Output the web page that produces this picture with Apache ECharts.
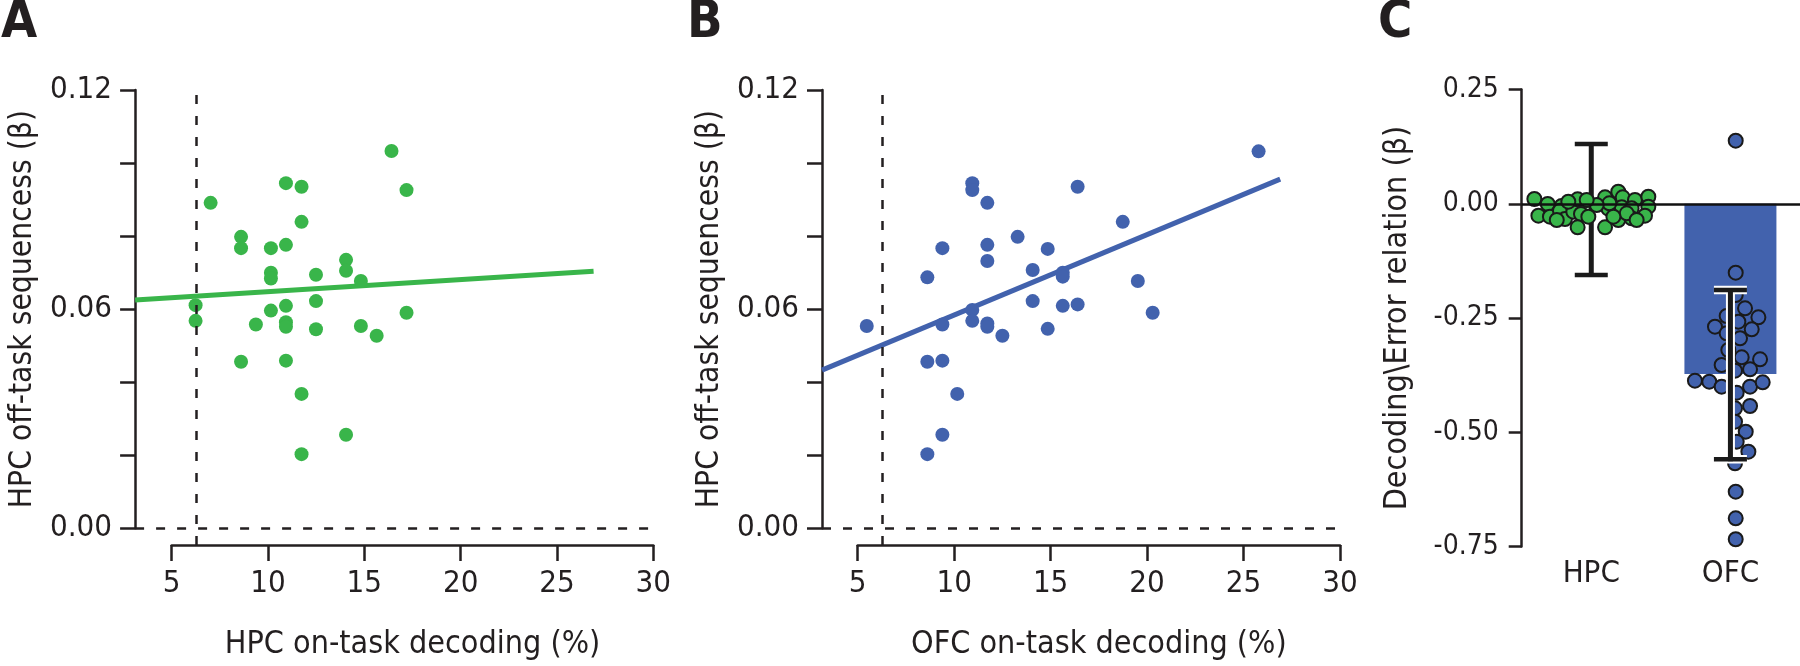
<!DOCTYPE html>
<html><head><meta charset="utf-8">
<script src="https://cdn.jsdelivr.net/npm/echarts@6/dist/echarts.min.js"></script>
<style>html,body{margin:0;padding:0;background:#fff}#c{width:1800px;height:666px}</style>
</head><body><div id="c"></div>
<script>
// ---------- Panel A: HPC on-task decoding vs HPC off-task sequenceness ----------
const hpcDecoding = [16.41,10.93,11.74,17.19,7.02,11.74,8.60,8.60,10.15,10.93,14.05,14.05,10.15,10.15,12.49,14.82,6.24,6.24,9.37,10.15,10.93,10.93,10.93,12.49,12.49,14.82,15.64,17.19,8.60,10.93,11.74,14.05,11.74];
const hpcSeqA     = [0.1033,0.0945,0.0935,0.0926,0.0891,0.0839,0.0798,0.0767,0.0767,0.0776,0.0735,0.0705,0.0700,0.0684,0.0694,0.0677,0.0611,0.0568,0.0558,0.0596,0.0609,0.0564,0.0552,0.0622,0.0545,0.0554,0.0527,0.0590,0.0456,0.0459,0.0368,0.0256,0.0203];
const fitAX = [3.1, 26.9];
const fitAY = [0.0625, 0.0704];

// ---------- Panel B: OFC on-task decoding vs HPC off-task sequenceness ----------
const ofcDecoding = [25.78,10.94,10.94,16.40,11.72,18.74,13.29,9.39,11.72,14.85,11.72,8.61,14.07,15.63,15.63,19.52,14.07,15.63,16.40,20.29,5.47,9.39,10.94,10.94,11.72,11.72,12.50,14.85,8.61,9.39,10.16,9.39,8.61];
const hpcSeqB     = [0.1032,0.0945,0.0926,0.0935,0.0891,0.0839,0.0798,0.0767,0.0776,0.0765,0.0732,0.0687,0.0707,0.0700,0.0689,0.0677,0.0622,0.0609,0.0613,0.0590,0.0554,0.0558,0.0598,0.0568,0.0561,0.0552,0.0527,0.0546,0.0456,0.0459,0.0368,0.0256,0.0203];
const fitBX = [3.15, 26.9];
const fitBY = [0.0433, 0.0956];

const chanceLevel = 6.25;
const xTicks = [5, 30];       // x axis extent of A and B
const yTicksAB = [0, 0.12];   // y axis extent of A and B

// ---------- Panel C: Decoding \ Error relation ----------
const regions = ['HPC', 'OFC'];
const regionMeans = [-0.01, -0.3725];
const errLow  = [-0.156, -0.559];
const errHigh = [0.131, -0.189];
const hpcSwarmX = [0.091,0.187,0.120,0.203,0.287,0.275,0.311,0.371,0.402,0.426,0.402,0.479,0.599,0.623,0.599,0.694,0.726,0.719,0.694,0.814,0.790,0.790,0.910,0.910,0.886,0.630,0.755,0.539,0.252,0.467,0.826,0.659,0.335];
const hpcSwarmY = [0.0104,-0.0005,-0.0261,-0.0283,-0.0049,-0.0151,-0.0334,-0.0173,0.0097,-0.0224,-0.0516,-0.0283,0.0140,-0.0108,-0.0516,0.0264,0.0140,-0.0078,-0.0356,0.0082,-0.0100,-0.0319,0.0155,-0.0064,-0.0261,0.0009,-0.0210,-0.0027,-0.0356,0.0082,-0.0356,-0.0283,0.0046];
const ofcSwarmX = [1.538,1.538,1.538,1.605,1.473,1.701,1.389,1.557,1.653,1.473,1.569,1.485,1.581,1.713,1.437,1.641,1.533,1.245,1.348,1.437,1.641,1.732,1.545,1.641,1.533,1.533,1.610,1.545,1.629,1.533,1.538,1.538,1.538];
const ofcSwarmY = [0.138,-0.1508,-0.1997,-0.2288,-0.2456,-0.2485,-0.2690,-0.2580,-0.2748,-0.2835,-0.2945,-0.3200,-0.3361,-0.3404,-0.3529,-0.3623,-0.3653,-0.3871,-0.3893,-0.4002,-0.4002,-0.3908,-0.4134,-0.4426,-0.4477,-0.4769,-0.4987,-0.5206,-0.5425,-0.5680,-0.6300,-0.6883,-0.7342];

const GREEN = '#39b54a', BLUE = '#4262ad', INK = '#231f20';
const FONT = "'Liberation Sans Narrow','Arial Narrow','DejaVu Sans Condensed',sans-serif";
const zip = (a, b) => a.map((v, i) => [v, b[i]]);

const chart = echarts.init(document.getElementById('c'), null, {renderer: 'canvas'});

const axisLineStyle = {color: INK, width: 2.5};
const dashStyle = {color: INK, width: 2.5, type: [9, 12]};

const gridA = {left: 135.1, width: 518.2, top: 90, height: 438.3};
const gridAd = {left: 171.7, width: 481.6, top: 90, height: 456.7};
const gridB = {left: 822.0, width: 518.0, top: 90, height: 438.3};
const gridBd = {left: 857.7, width: 482.3, top: 90, height: 456.7};
const gridC = {left: 1521.7, right: 0, top: 89.5, height: 457};

function dataX(grid, min) {
  return {type: 'value', gridIndex: grid, min: min, max: xTicks[1], show: false};
}
function dispX(grid, name) {
  return {
    type: 'value', gridIndex: grid, min: xTicks[0], max: xTicks[1], interval: 5, position: 'bottom',
    axisLine: {show: true, onZero: false, lineStyle: axisLineStyle},
    axisTick: {show: true, length: 16, lineStyle: axisLineStyle},
    axisLabel: {color: INK, fontSize: 31, fontFamily: FONT, margin: 23},
    splitLine: {show: false},
    name: name, nameLocation: 'middle', nameGap: 84,
    nameTextStyle: {color: INK, fontSize: 32, fontFamily: FONT}
  };
}
function dataY(grid) {
  return {
    type: 'value', gridIndex: grid, min: yTicksAB[0], max: yTicksAB[1], interval: 0.02,
    axisLine: {show: true, lineStyle: axisLineStyle},
    axisTick: {show: true, length: 15, lineStyle: axisLineStyle},
    axisLabel: {color: INK, fontSize: 31, fontFamily: FONT, margin: 23,
      formatter: v => (Math.abs(v / 0.06 - Math.round(v / 0.06)) < 1e-6 ? v.toFixed(2) : '')},
    splitLine: {show: false},
    name: 'HPC off-task sequencess (\u03b2)', nameLocation: 'middle', nameGap: 96,
    nameTextStyle: {color: INK, fontSize: 31.5, fontFamily: FONT}
  };
}
function hiddenY(grid) {
  return {type: 'value', gridIndex: grid, min: 0, max: 1, show: false};
}

function errRender(outline) {
  return function (params, api) {
    const x = api.value(0), lo = api.value(1), hi = api.value(2);
    const pLo = api.coord([x, lo]), pHi = api.coord([x, hi]);
    const cx = pLo[0], hw = 16.5;
    const segs = [[cx, pHi[1] - 2, cx, pLo[1] + 2], [cx - hw, pHi[1], cx + hw, pHi[1]], [cx - hw, pLo[1], cx + hw, pLo[1]]];
    const widths = [5, 4.5, 4.5];
    const children = [];
    if (outline) segs.forEach((s, i) => children.push({type: 'line', shape: {x1: s[0], y1: s[1], x2: s[2], y2: s[3]}, style: {stroke: '#fff', lineWidth: widths[i] + 4}}));
    segs.forEach((s, i) => children.push({type: 'line', shape: {x1: s[0], y1: s[1], x2: s[2], y2: s[3]}, style: {stroke: '#1a1a1a', lineWidth: widths[i]}}));
    return {type: 'group', children};
  };
}

const option = {
  animation: false,
  backgroundColor: '#fff',
  grid: [gridA, gridAd, gridB, gridBd, gridC],
  xAxis: [
    dataX(0, 3.1), dispX(1, 'HPC on-task decoding (%)'),
    dataX(2, 3.15), dispX(3, 'OFC on-task decoding (%)'),
    {type: 'category', gridIndex: 4, data: regions,
      axisLine: {show: false}, axisTick: {show: false},
      axisLabel: {color: INK, fontSize: 31, fontFamily: FONT, margin: 12}},
    {type: 'value', gridIndex: 4, min: 0, max: 2, show: false}
  ],
  yAxis: [
    dataY(0), hiddenY(1), dataY(2), hiddenY(3),
    {type: 'value', gridIndex: 4, min: -0.75, max: 0.25, interval: 0.25,
      axisLine: {show: true, onZero: false, lineStyle: axisLineStyle},
      axisTick: {show: true, length: 13, lineStyle: axisLineStyle},
      axisLabel: {color: INK, fontSize: 28, fontFamily: FONT, margin: 23, formatter: v => v.toFixed(2)},
      splitLine: {show: false},
      name: 'Decoding\\Error relation (\u03b2)', nameLocation: 'middle', nameGap: 108,
      nameTextStyle: {color: INK, fontSize: 32, fontFamily: FONT}}
  ],
  graphic: [
    {type: 'text', left: 1, top: -3, style: {text: 'A', fill: INK, font: "bold 52px " + FONT}},
    {type: 'text', left: 687, top: -3, style: {text: 'B', fill: INK, font: "bold 52px " + FONT}},
    {type: 'text', left: 1378, top: -3, style: {text: 'C', fill: INK, font: "bold 52px " + FONT}}
  ],
  series: [
    // Panel A
    {type: 'line', xAxisIndex: 0, yAxisIndex: 0, data: zip(fitAX, fitAY), showSymbol: false, z: 2,
      lineStyle: {color: GREEN, width: 5}, silent: true,
      markLine: {symbol: 'none', silent: true, label: {show: false}, lineStyle: dashStyle, data: [{yAxis: 0}]}},
    {type: 'scatter', xAxisIndex: 0, yAxisIndex: 0, data: zip(hpcDecoding, hpcSeqA), symbolSize: 14, z: 3,
      itemStyle: {color: GREEN, opacity: 1}},
    {type: 'scatter', xAxisIndex: 1, yAxisIndex: 1, data: [], z: 1,
      markLine: {symbol: 'none', silent: true, label: {show: false}, lineStyle: dashStyle, data: [{xAxis: chanceLevel}]}},
    // Panel B
    {type: 'line', xAxisIndex: 2, yAxisIndex: 2, data: zip(fitBX, fitBY), showSymbol: false, z: 2,
      lineStyle: {color: BLUE, width: 5}, silent: true,
      markLine: {symbol: 'none', silent: true, label: {show: false}, lineStyle: dashStyle, data: [{yAxis: 0}]}},
    {type: 'scatter', xAxisIndex: 2, yAxisIndex: 2, data: zip(ofcDecoding, hpcSeqB), symbolSize: 14, z: 3,
      itemStyle: {color: BLUE, opacity: 1}},
    {type: 'scatter', xAxisIndex: 3, yAxisIndex: 3, data: [], z: 1,
      markLine: {symbol: 'none', silent: true, label: {show: false}, lineStyle: dashStyle, data: [{xAxis: chanceLevel}]}},
    // Panel C
    {type: 'bar', xAxisIndex: 4, yAxisIndex: 4, barWidth: 92, z: 1,
      data: regionMeans.map((v, i) => ({value: v, itemStyle: {color: i === 0 ? GREEN : BLUE}})),
      markLine: {symbol: 'none', silent: true, label: {show: false}, lineStyle: {color: '#111', width: 2.5, type: 'solid'}, data: [{yAxis: 0}]}},
    {type: 'custom', xAxisIndex: 4, yAxisIndex: 4, z: 2, renderItem: errRender(false),
      encode: {x: 0, y: [1, 2]}, data: [[0, errLow[0], errHigh[0]]]},
    {type: 'scatter', xAxisIndex: 5, yAxisIndex: 4, z: 3, symbolSize: 14,
      data: zip(hpcSwarmX, hpcSwarmY), itemStyle: {color: GREEN, borderColor: '#1a1a1a', borderWidth: 2, opacity: 1}},
    {type: 'scatter', xAxisIndex: 5, yAxisIndex: 4, z: 3, symbolSize: 14,
      data: zip(ofcSwarmX, ofcSwarmY), itemStyle: {color: BLUE, borderColor: '#1a1a1a', borderWidth: 2, opacity: 1}},
    {type: 'custom', xAxisIndex: 4, yAxisIndex: 4, z: 4, renderItem: errRender(true),
      encode: {x: 0, y: [1, 2]}, data: [[1, errLow[1], errHigh[1]]]}
  ]
};
chart.setOption(option);
</script>
</body></html>
